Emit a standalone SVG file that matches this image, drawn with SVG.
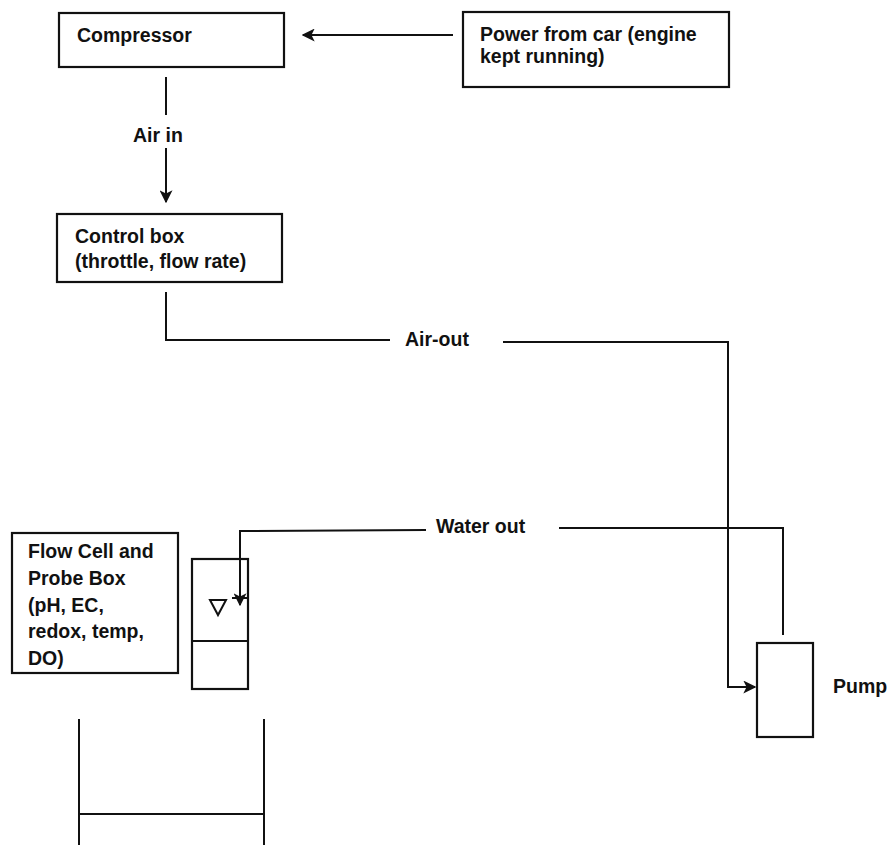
<svg xmlns="http://www.w3.org/2000/svg" width="890" height="845" viewBox="0 0 890 845">
<style>
  .box { fill: #fff; stroke: #111; stroke-width: 2.2; }
  .open { fill: none; stroke: #111; stroke-width: 2.2; }
  .ln { fill: none; stroke: #111; stroke-width: 2; }
  .t { font-family: "Liberation Sans", Arial, sans-serif; font-weight: bold; font-size: 19.5px; fill: #111; }
</style>
<defs>
  <marker id="arr" viewBox="0 0 10 10" refX="9" refY="5" markerWidth="6.5" markerHeight="6.5" orient="auto" markerUnits="strokeWidth">
    <path d="M0,0 L10,5 L0,10 L2.5,5 z" fill="#111"/>
  </marker>
</defs>
<rect width="890" height="845" fill="#fff"/>

<g id="compressor">
  <rect class="box" x="59" y="13" width="225" height="54"/>
  <text class="t" x="77" y="42">Compressor</text>
</g>

<g id="power">
  <rect class="box" x="463" y="12" width="266" height="75"/>
  <text class="t" x="480" y="41">Power from car (engine</text>
  <text class="t" x="480" y="63">kept running)</text>
</g>

<g id="control">
  <rect class="box" x="57" y="214" width="225" height="68"/>
  <text class="t" x="75" y="243">Control box</text>
  <text class="t" x="75" y="268">(throttle, flow rate)</text>
</g>

<g id="flowcell-label">
  <rect class="box" x="12" y="533" width="166" height="140"/>
  <text class="t" x="28" y="558">Flow Cell and</text>
  <text class="t" x="28" y="585">Probe Box</text>
  <text class="t" x="28" y="612">(pH, EC,</text>
  <text class="t" x="28" y="638">redox, temp,</text>
  <text class="t" x="28" y="665">DO)</text>
</g>

<g id="flowcell">
  <rect class="open" x="192" y="559" width="56" height="130"/>
  <line class="ln" x1="192" y1="641" x2="248" y2="641"/>
  <polygon points="210,600 226,600 218,615" fill="none" stroke="#111" stroke-width="2"/>
</g>

<g id="pump">
  <rect class="box" x="757" y="643" width="56" height="94"/>
  <text class="t" x="833" y="693">Pump</text>
</g>

<g id="beaker">
  <line class="ln" x1="79" y1="719" x2="79" y2="845"/>
  <line class="ln" x1="264" y1="719" x2="264" y2="845"/>
  <line class="ln" x1="79" y1="814" x2="264" y2="814"/>
</g>

<g id="connectors">
  <line class="ln" x1="453" y1="35" x2="303" y2="35" marker-end="url(#arr)"/>
  <line class="ln" x1="166" y1="77" x2="166" y2="115"/>
  <line class="ln" x1="166" y1="148" x2="166" y2="202" marker-end="url(#arr)"/>
  <polyline class="ln" points="166,292 166,340 390,340"/>
  <polyline class="ln" points="503,342 728,342 728,687 755,687" marker-end="url(#arr)"/>
  <polyline class="ln" points="783,635 783,528 559,528"/>
  <polyline class="ln" points="426,530 240,531 240,605" marker-end="url(#arr)"/>
  <line class="ln" x1="232" y1="598" x2="248" y2="598"/>
  <text class="t" x="133" y="142">Air in</text>
  <text class="t" x="405" y="346">Air-out</text>
  <text class="t" x="436" y="533">Water out</text>
</g>
</svg>
